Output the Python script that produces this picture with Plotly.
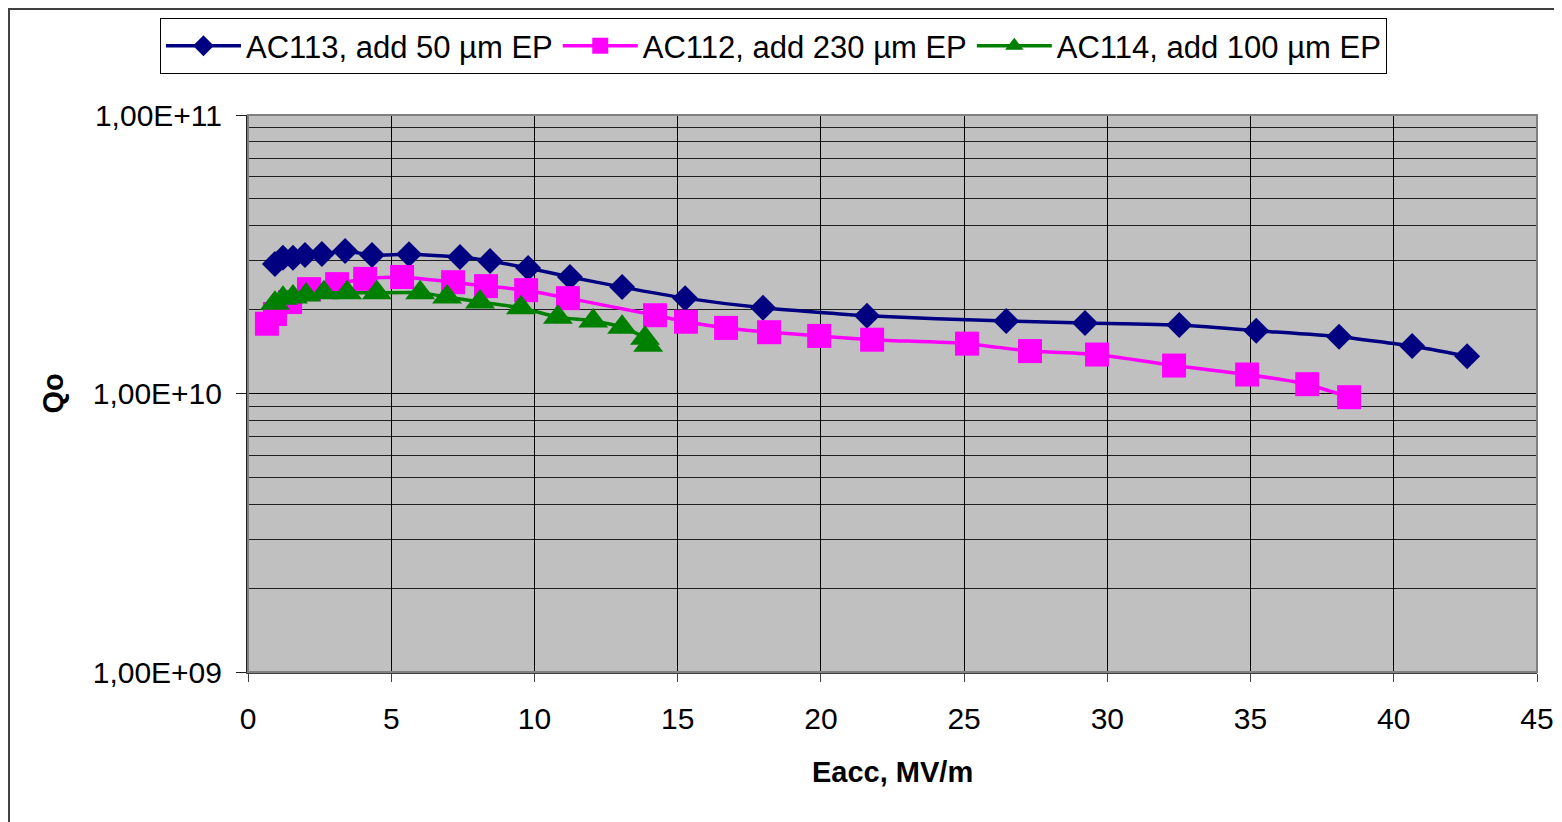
import plotly.graph_objects as go

# ---- data ----
ac113_x = [0.94, 1.22, 1.57, 1.99, 2.58, 3.39, 4.33, 5.62, 7.40, 8.45, 9.78, 11.24,
           13.06, 15.26, 17.98, 21.61, 26.47, 29.22, 32.51, 35.20, 38.09, 40.64, 42.56]
ac113_q = [2.92e10, 3.07e10, 3.07e10, 3.14e10, 3.17e10, 3.25e10, 3.14e10, 3.16e10, 3.09e10,
           2.99e10, 2.82e10, 2.62e10, 2.41e10, 2.20e10, 2.03e10, 1.90e10, 1.82e10, 1.79e10,
           1.76e10, 1.68e10, 1.60e10, 1.48e10, 1.36e10]

ac112_x = [0.66, 0.94, 1.47, 2.13, 3.11, 4.09, 5.38, 7.16, 8.31, 9.71, 11.17, 14.21,
           15.29, 16.69, 18.19, 19.94, 21.79, 25.10, 27.30, 29.64, 32.33, 34.88, 36.98, 38.44]
ac112_q = [1.78e10, 1.93e10, 2.13e10, 2.37e10, 2.47e10, 2.58e10, 2.62e10, 2.51e10, 2.43e10,
           2.35e10, 2.20e10, 1.91e10, 1.81e10, 1.72e10, 1.66e10, 1.61e10, 1.56e10, 1.51e10,
           1.42e10, 1.38e10, 1.26e10, 1.17e10, 1.08e10, 0.97e10]

ac114_x = [0.94, 1.22, 1.57, 2.03, 2.65, 3.46, 4.50, 6.01, 6.95, 8.10, 9.53, 10.82,
           12.05, 13.06, 13.86, 13.97]
ac114_q = [2.11e10, 2.20e10, 2.22e10, 2.26e10, 2.30e10, 2.30e10, 2.30e10, 2.30e10, 2.22e10,
           2.13e10, 2.03e10, 1.88e10, 1.82e10, 1.73e10, 1.58e10, 1.49e10]

names = ["AC113, add 50 µm EP", "AC112, add 230 µm EP", "AC114, add 100 µm EP"]
x_ticks = [0, 5, 10, 15, 20, 25, 30, 35, 40, 45]
y_tickvals = [1e9, 1e10, 1e11]
y_ticktext = ["1,00E+09", "1,00E+10", "1,00E+11"]

FONT = "Liberation Sans, Arial, sans-serif"

fig = go.Figure()
fig.add_trace(go.Scatter(x=ac113_x, y=ac113_q, name=names[0], mode="lines+markers",
                         line=dict(color="#000080", width=3.5, shape="spline", smoothing=0.5),
                         marker=dict(symbol="diamond", size=20, color="#000080")))
fig.add_trace(go.Scatter(x=ac112_x, y=ac112_q, name=names[1], mode="lines+markers",
                         line=dict(color="#FF00FF", width=3.5, shape="spline", smoothing=0.5),
                         marker=dict(symbol="square", size=24, color="#FF00FF")))
fig.add_trace(go.Scatter(x=ac114_x, y=ac114_q, name=names[2], mode="lines+markers",
                         line=dict(color="#008000", width=3.5, shape="spline", smoothing=0.5),
                         marker=dict(symbol="triangle-up", size=26, color="#008000")))

minor_vals = [m * 10 ** d for d in (9, 10) for m in range(2, 10)]

fig.update_xaxes(range=[0, 45], tickvals=x_ticks, showgrid=True, gridcolor="#000000",
                 gridwidth=1, showline=True, linecolor="#404040", linewidth=2,
                 ticks="outside", ticklen=8, tickcolor="#404040", zeroline=False,
                 ticklabelstandoff=11,
                 tickfont=dict(family=FONT, size=30, color="black"))
fig.update_yaxes(type="log", range=[9, 11], tickvals=y_tickvals, ticktext=y_ticktext,
                 showgrid=True, gridcolor="#000000", gridwidth=1,
                 minor=dict(tickvals=minor_vals, showgrid=True, gridcolor="#202020",
                            gridwidth=1, ticks=""),
                 showline=True, linecolor="#202020", linewidth=2,
                 ticks="outside", ticklen=10, tickcolor="#202020", ticklabelstandoff=8,
                 tickfont=dict(family=FONT, size=30, color="black"))

fig.update_layout(
    width=1554, height=814,
    margin=dict(l=240, r=25, t=107, b=150, autoexpand=False),
    paper_bgcolor="white", plot_bgcolor="#C0C0C0",
    font=dict(family=FONT, size=30, color="black"),
    legend=dict(orientation="h", x=-0.0683, y=1.174, xanchor="left", yanchor="top",
                bgcolor="white", bordercolor="black", borderwidth=1,
                font=dict(family=FONT, size=31, color="black"), itemwidth=75,
                tracegroupgap=0),
    annotations=[
        dict(text="<b>Eacc, MV/m</b>", xref="paper", yref="paper", x=0.5, y=-0.18,
             xanchor="center", yanchor="middle", showarrow=False,
             font=dict(family=FONT, size=29, color="black")),
        dict(text="<b>Qo</b>", xref="paper", yref="paper", x=-0.152, y=0.5,
             xanchor="center", yanchor="middle", showarrow=False, textangle=-90,
             font=dict(family=FONT, size=29, color="black")),
    ],
    shapes=[
        dict(type="rect", xref="paper", yref="paper", x0=0, y0=0, x1=1, y1=1,
             line=dict(color="#808080", width=2), layer="above"),
        dict(type="rect", xref="paper", yref="paper", x0=-0.1854, y0=-0.30, x1=1.04, y1=1.1903,
             line=dict(color="#404040", width=2), layer="below"),
    ],
)

fig.write_html("out.html")
